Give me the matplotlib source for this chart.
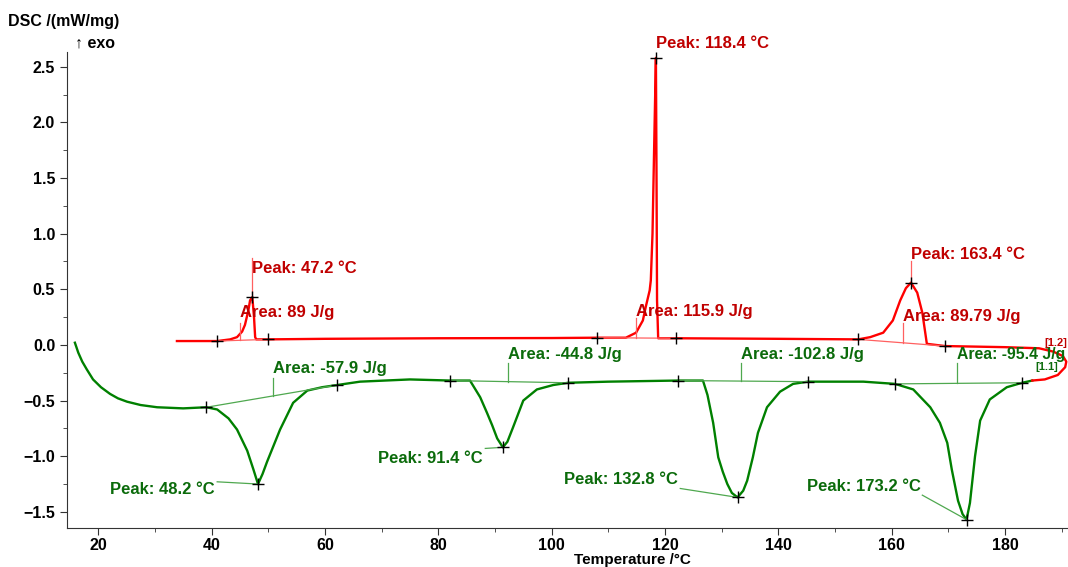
import matplotlib.pyplot as plt
from matplotlib.ticker import MultipleLocator

plt.rcParams['font.family'] = ['Liberation Sans', 'DejaVu Sans']

# heating run (green, endothermic peaks)
heat_T = [15.9, 16.5, 17.2, 18.0, 19.1, 20.5, 22.1, 23.5, 25.1, 27.5, 30.4, 35.0,
          39.1, 41.0, 43.0, 44.5, 46.3, 47.4, 48.2, 49.0, 49.8, 52.1, 54.4, 56.9,
          59.5, 62.2, 66.2, 75.0, 82.1, 85.6, 87.4, 88.6, 89.5, 90.4, 91.4, 92.2,
          93.2, 95.0, 97.4, 100.3, 102.9, 110.0, 122.3, 126.7, 127.5, 128.5, 129.4,
          130.2, 131.0, 131.8, 132.8, 133.8, 134.5, 135.5, 136.4, 138.0, 140.3,
          142.6, 145.2, 155.0, 160.6, 163.8, 166.8, 168.5, 169.8, 170.6, 171.7,
          172.5, 173.2, 173.8, 174.7, 175.6, 177.3, 180.3, 183.0, 184.8]
heat_dsc = [0.02, -0.07, -0.15, -0.22, -0.31, -0.38, -0.44, -0.48, -0.51, -0.54,
            -0.56, -0.57, -0.56, -0.58, -0.66, -0.76, -0.95, -1.12, -1.25, -1.16,
            -1.05, -0.76, -0.52, -0.41, -0.38, -0.36, -0.33, -0.31, -0.32, -0.32,
            -0.47, -0.61, -0.72, -0.84, -0.92, -0.87, -0.74, -0.50, -0.40, -0.36,
            -0.34, -0.33, -0.32, -0.32, -0.45, -0.70, -1.01, -1.14, -1.25, -1.33,
            -1.37, -1.31, -1.22, -1.01, -0.79, -0.56, -0.42, -0.35, -0.33, -0.33,
            -0.35, -0.40, -0.56, -0.70, -0.88, -1.12, -1.40, -1.52, -1.57, -1.42,
            -1.00, -0.68, -0.49, -0.38, -0.34, -0.32]

# cooling run (red, exothermic peaks), incl. the turn-around loop at the right
cool_T = [33.9, 41.0, 43.3, 44.5, 45.4, 45.9, 46.5, 46.8, 47.2, 47.5, 47.7, 47.9,
          50.0, 60.0, 80.0, 100.0, 108.0, 113.1, 114.9, 116.1, 116.6, 117.3, 117.5,
          117.8, 118.1, 118.4, 118.5, 118.6, 118.8, 122.0, 140.0, 154.1, 156.2,
          158.5, 160.2, 161.5, 162.5, 163.4, 164.5, 165.4, 166.2, 169.4, 180.0,
          186.0, 188.5, 190.2, 190.8, 190.6, 189.3, 187.0, 184.8]
cool_dsc = [0.035, 0.035, 0.05, 0.07, 0.12, 0.18, 0.31, 0.40, 0.43, 0.25, 0.07,
            0.05, 0.05, 0.055, 0.06, 0.062, 0.065, 0.065, 0.11, 0.22, 0.34, 0.49,
            0.58, 1.0, 1.8, 2.58, 1.6, 0.4, 0.06, 0.06, 0.055, 0.05, 0.07, 0.11,
            0.22, 0.40, 0.51, 0.56, 0.47, 0.29, 0.01, -0.01, -0.02, -0.03, -0.06,
            -0.10, -0.15, -0.20, -0.27, -0.31, -0.32]

heat_peaks = [48.2, 91.4, 132.8, 173.2]
heat_peak_dsc = [-1.25, -0.92, -1.37, -1.57]
heat_areas = [-57.9, -44.8, -102.8, -95.4]
heat_limits = [(39.1, -0.56, 62.2, -0.36), (82.1, -0.32, 102.9, -0.34),
               (122.3, -0.32, 145.2, -0.33), (160.6, -0.35, 183.0, -0.34)]

cool_peaks = [47.2, 118.4, 163.4]
cool_peak_dsc = [0.43, 2.58, 0.56]
cool_areas = ['89', '115.9', '89.79']
cool_limits = [(41.0, 0.035, 50.0, 0.05), (108.0, 0.065, 122.0, 0.06),
               (154.1, 0.05, 169.4, -0.01)]

GREEN = '#008000'
GREEN_TXT = '#0b6b0b'
GREEN_THIN = '#4fa84f'
RED = '#ff0000'
RED_TXT = '#c00000'
RED_THIN = '#ff6060'

fig = plt.figure(figsize=(10.68, 5.67), dpi=100)
ax = fig.add_axes([0.0627, 0.0688, 0.9373, 0.839])

ax.plot(heat_T, heat_dsc, color=GREEN, lw=1.7)
ax.plot(cool_T, cool_dsc, color=RED, lw=1.7)

txt = dict(fontweight='bold', va='center', clip_on=False)

# green baselines, area leaders and labels
area_x = [50.9, 92.3, 133.4, 171.5]
area_top = [-0.30, -0.16, -0.16, -0.16]
area_ty = [-0.21, -0.09, -0.09, -0.09]
area_fs = [12, 12, 12, 11.3]
for (t1, v1, t2, v2), xa, top, ty, fs, a in zip(heat_limits, area_x, area_top, area_ty, area_fs, heat_areas):
    ax.plot([t1, t2], [v1, v2], color=GREEN_THIN, lw=0.9)
    vb = v1 + (v2 - v1) * (xa - t1) / (t2 - t1)
    ax.plot([xa, xa], [vb, top], color=GREEN_THIN, lw=0.9)
    ax.text(xa, ty, 'Area: %s J/g' % a, color=GREEN_TXT, fontsize=fs, **txt)
    ax.plot([t1, t2], [v1, v2], ls='none', marker='+', ms=8, mec='black', mew=1)

# green peak labels (right edge) with leader lines
peak_lbl = [(40.6, -1.30, 41.0, -1.23), (87.9, -1.02, 88.3, -0.93),
            (122.3, -1.21, 122.7, -1.29), (165.2, -1.27, 165.4, -1.35)]
for p, v, (tx, ty, lx, ly) in zip(heat_peaks, heat_peak_dsc, peak_lbl):
    ax.plot([lx, p], [ly, v], color=GREEN_THIN, lw=0.9)
    ax.plot(p, v, marker='+', ms=9, mec='black', mew=1)
    ax.text(tx, ty, 'Peak: %.1f °C' % p, color=GREEN_TXT, ha='right', fontsize=12, **txt)

# red baselines, area leaders and labels
red_area_x = [45.0, 114.9, 162.0]
red_area_top = [0.20, 0.24, 0.20]
red_area_ty = [0.29, 0.30, 0.26]
for (t1, v1, t2, v2), xa, top, ty, a in zip(cool_limits, red_area_x, red_area_top, red_area_ty, cool_areas):
    ax.plot([t1, t2], [v1, v2], color=RED_THIN, lw=0.9)
    vb = v1 + (v2 - v1) * (xa - t1) / (t2 - t1)
    ax.plot([xa, xa], [vb, top], color=RED_THIN, lw=0.9)
    ax.text(xa, ty, 'Area: %s J/g' % a, color=RED_TXT, fontsize=12, **txt)
    ax.plot([t1, t2], [v1, v2], ls='none', marker='+', ms=8, mec='black', mew=1)

red_peak_ty = [0.69, 2.71, 0.81]
red_peak_top = [0.78, 2.58, 0.75]
for p, v, ty, top in zip(cool_peaks, cool_peak_dsc, red_peak_ty, red_peak_top):
    ax.plot([p, p], [v, top], color=RED_THIN, lw=0.9)
    ax.plot(p, v, marker='+', ms=9, mec='black', mew=1)
    ax.text(p, ty, 'Peak: %.1f °C' % p, color=RED_TXT, ha='left', fontsize=12, **txt)

ax.text(186.9, 0.02, '[1.2]', color=RED_TXT, fontsize=8, fontweight='bold', va='center', clip_on=False)
ax.text(185.3, -0.195, '[1.1]', color=GREEN_TXT, fontsize=8, fontweight='bold', va='center', clip_on=False)

ax.set_xlim(14.5, 191.1)
ax.set_ylim(-1.645, 2.63)
ax.xaxis.set_major_locator(MultipleLocator(20))
ax.xaxis.set_minor_locator(MultipleLocator(10))
ax.yaxis.set_major_locator(MultipleLocator(0.5))
ax.yaxis.set_minor_locator(MultipleLocator(0.25))
ax.tick_params(which='both', direction='out', color='#333333', labelsize=11.5)
ax.tick_params(which='major', length=5)
ax.tick_params(which='minor', length=3)
ax.tick_params(axis='x', pad=2)
for lab in ax.get_xticklabels() + ax.get_yticklabels():
    lab.set_fontweight('bold')
for s in ['top', 'right']:
    ax.spines[s].set_visible(False)
for s in ['left', 'bottom']:
    ax.spines[s].set_color('#333333')

fig.text(0.0075, 0.962, 'DSC /(mW/mg)', fontsize=11.5, fontweight='bold', va='center')
fig.text(0.070, 0.925, '↑ exo', fontsize=11.5, fontweight='bold', va='center')
fig.text(0.592, 0.013, 'Temperature /°C', fontsize=11, fontweight='bold', ha='center', va='center')

plt.savefig('out.png', dpi=100)
